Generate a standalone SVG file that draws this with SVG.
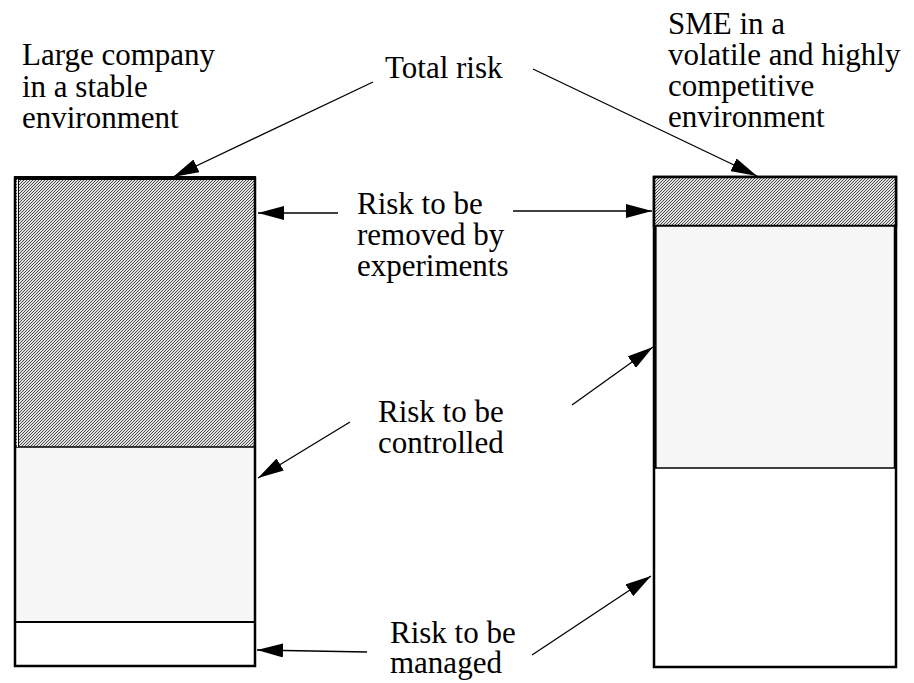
<svg xmlns="http://www.w3.org/2000/svg" width="914" height="683" viewBox="0 0 914 683">
<style>
.t{font-family:'Liberation Serif','DejaVu Serif',serif;font-size:31px;fill:#000}
.ln{stroke:#000;stroke-width:1.3;fill:none;marker-end:url(#ah)}
.box{stroke:#000;stroke-width:2.5}
.hatch{fill:url(#hp)}
.light{fill:#f6f6f6}
</style>
<defs>
<pattern id="hp" width="3" height="3" patternUnits="userSpaceOnUse">
<rect width="3" height="3" fill="#e2e2e2"/>
<path d="M-1,1 L1,-1 M0,3 L3,0 M2,4 L4,2" stroke="#3a3a3a" stroke-width="0.9"/>
</pattern>
<marker id="ah" viewBox="0 0 26 14" refX="26" refY="7" markerWidth="26" markerHeight="14" markerUnits="userSpaceOnUse" orient="auto">
<path d="M0,0 L26,7 L0,14 z" fill="#000"/>
</marker>
</defs>
<rect width="914" height="683" fill="#fff"/>
<g id="left-bar">
<rect x="15" y="178" width="240" height="269" class="hatch"/>
<rect x="15" y="447" width="240" height="175" class="light"/>
<rect x="15" y="622" width="240" height="44" fill="#fff"/>
<line x1="15" y1="447" x2="255" y2="447" stroke="#000" stroke-width="1.5"/>
<line x1="15" y1="622" x2="255" y2="622" stroke="#000" stroke-width="2"/>
<line x1="14" y1="178" x2="256" y2="178" stroke="#000" stroke-width="4"/>
<line x1="17.5" y1="178" x2="17.5" y2="447" stroke="#fff" stroke-width="1"/>
<line x1="18.5" y1="178" x2="18.5" y2="447" stroke="#000" stroke-width="1"/>
<rect x="15" y="178" width="240" height="488" class="box" fill="none"/>
</g>
<g id="right-bar">
<rect x="654" y="177" width="242" height="490" class="box" fill="#fff"/>
<rect x="654" y="177" width="242" height="49" class="box hatch"/>
<rect x="655.5" y="226" width="239" height="242" class="light" stroke="#000" stroke-width="1.5"/>
<line x1="655" y1="226" x2="655" y2="468" stroke="#000" stroke-width="3"/>
</g>
<g class="t" font-family="Liberation Serif, DejaVu Serif, serif" font-size="31">
<g id="label-large">
<text x="22" y="65">Large company</text>
<text x="22" y="97">in a stable</text>
<text x="22" y="128">environment</text>
</g>
<g id="label-sme">
<text x="668" y="34">SME in a</text>
<text x="668" y="65">volatile and highly</text>
<text x="668" y="96">competitive</text>
<text x="668" y="127">environment</text>
</g>
<g id="label-total">
<text x="385" y="78">Total risk</text>
</g>
<g id="label-removed">
<text x="357" y="214">Risk to be</text>
<text x="357" y="245">removed by</text>
<text x="357" y="276">experiments</text>
</g>
<g id="label-controlled">
<text x="378" y="422">Risk to be</text>
<text x="378" y="453">controlled</text>
</g>
<g id="label-managed">
<text x="390" y="643">Risk to be</text>
<text x="390" y="673">managed</text>
</g>
</g>
<g id="connectors">
<line class="ln" x1="373" y1="82" x2="173" y2="177"/>
<line class="ln" x1="533" y1="69" x2="757" y2="176"/>
<line class="ln" x1="338" y1="213" x2="258" y2="213"/>
<line class="ln" x1="513" y1="211" x2="652" y2="211"/>
<line class="ln" x1="350" y1="422" x2="258" y2="478"/>
<line class="ln" x1="572" y1="405" x2="653" y2="347"/>
<line class="ln" x1="367" y1="652" x2="257" y2="650"/>
<line class="ln" x1="532" y1="655" x2="651" y2="576"/>
</g>
</svg>
